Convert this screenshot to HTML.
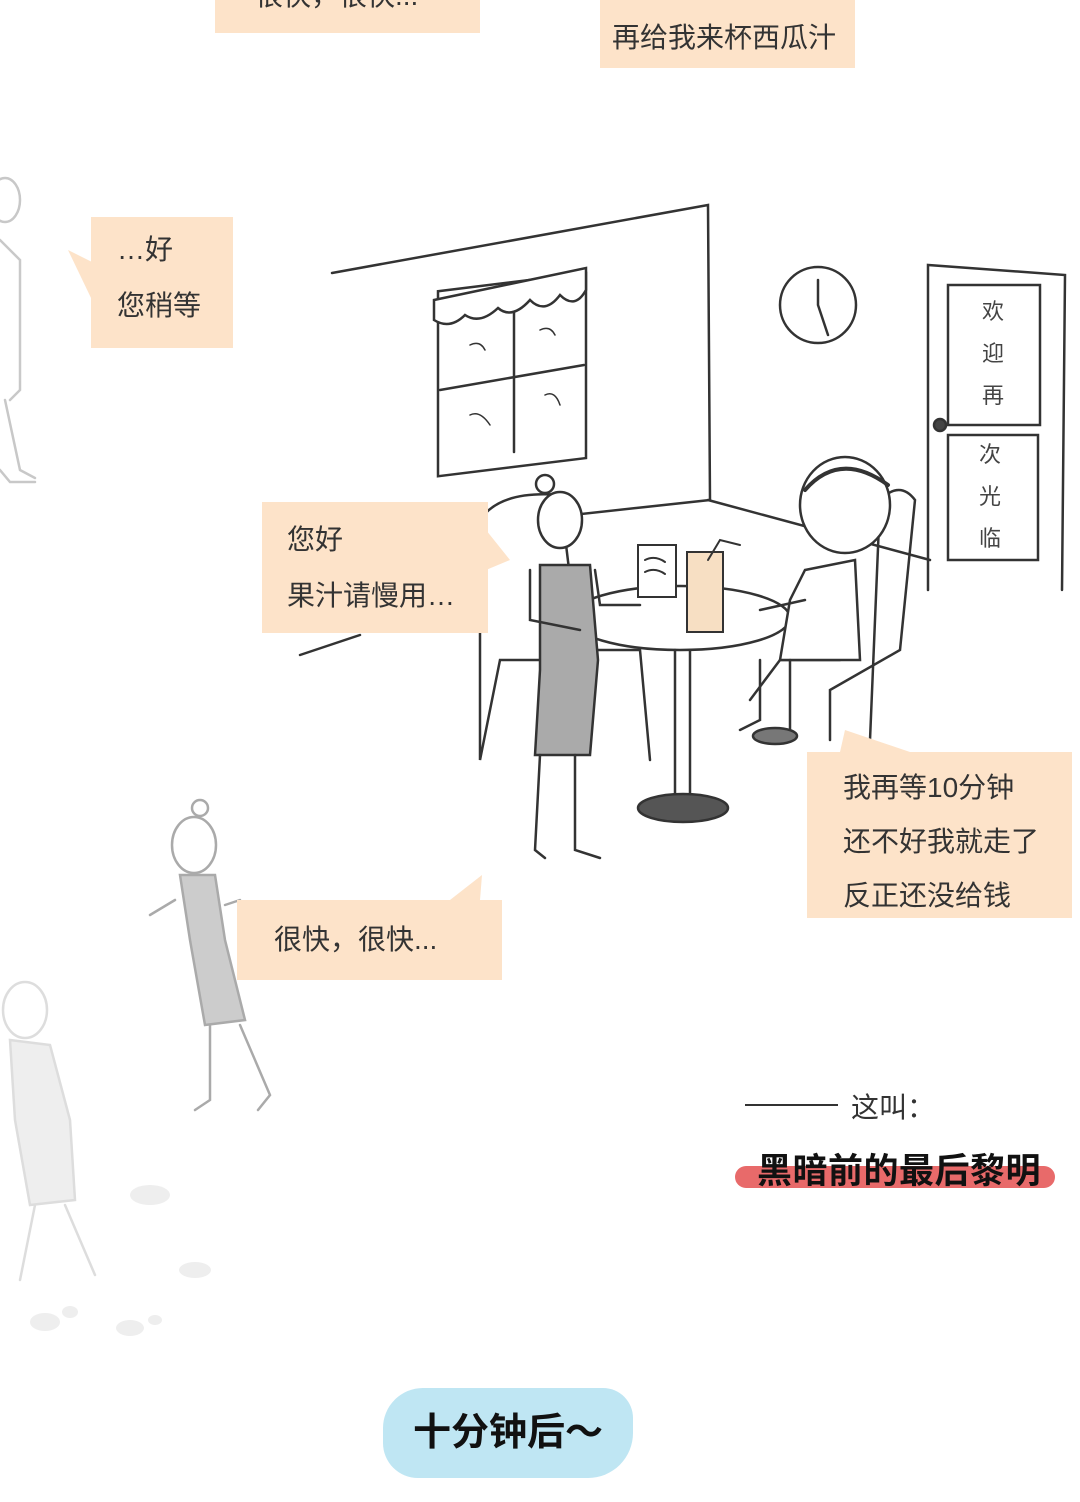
<!DOCTYPE html>
<html><head><meta charset="utf-8">
<style>
html,body{margin:0;padding:0;background:#fff}
#page{position:relative;width:1080px;height:1502px;overflow:hidden;background:#fff;font-family:"Liberation Sans","Noto Sans CJK SC",sans-serif}
.bub{position:absolute;background:#fde3c9;color:#333;font-size:28px;line-height:56px;box-sizing:border-box}
svg{position:absolute;left:0;top:0}
.door{position:absolute;font-size:22px;color:#444;width:30px;text-align:center;line-height:42px}
</style></head>
<body>
<div id="page">
<svg width="1080" height="1502" fill="none" stroke="#333" stroke-width="2.5" stroke-linecap="round">
 <g stroke="#bbb" opacity="0.8">
  <ellipse cx="5" cy="200" rx="15" ry="22"/>
  <path d="M0 240 L20 260 L20 390 L10 400"/>
  <path d="M5 400 L20 470 L35 478"/>
  <path d="M0 470 L10 482 L35 482"/>
 </g>
 <g stroke="#aaa">
  <ellipse cx="194" cy="845" rx="22" ry="28"/>
  <circle cx="200" cy="808" r="8"/>
  <path d="M180 875 L215 875 L225 940 L245 1020 L205 1025 L190 940 Z" fill="#ccc"/>
  <path d="M175 900 L150 915 M225 905 L240 900"/>
  <path d="M210 1025 L210 1100 L195 1110 M240 1025 L270 1095 L258 1110"/>
 </g>
 <g stroke="#ddd">
  <ellipse cx="25" cy="1010" rx="22" ry="28"/>
  <path d="M10 1040 L50 1045 L70 1120 L75 1200 L30 1205 L15 1120 Z" fill="#eee"/>
  <path d="M35 1205 L20 1280 M65 1205 L95 1275"/>
 </g>
 <g fill="#eee" stroke="none">
  <ellipse cx="45" cy="1322" rx="15" ry="9"/><ellipse cx="70" cy="1312" rx="8" ry="6"/>
  <ellipse cx="130" cy="1328" rx="14" ry="8"/><ellipse cx="155" cy="1320" rx="7" ry="5"/>
  <ellipse cx="150" cy="1195" rx="20" ry="10"/><ellipse cx="195" cy="1270" rx="16" ry="8"/>
 </g>
 <g>
  <path d="M332 273 L708 205 L710 500 L480 525"/>
  <path d="M708 500 L930 560"/>
  <path d="M300 655 L360 635"/>
 </g>
 <g>
  <rect x="438" y="290" width="148" height="185" transform="skewY(-7) translate(0,55)"/>
  <path d="M514 290 L514 452 M440 390 L584 365"/>
  <path d="M434 300 L586 268 L586 290 Q575 310 560 295 Q545 315 530 300 Q512 320 498 308 Q480 325 465 315 Q450 330 434 320 Z" fill="#fff"/>
  <path d="M470 345 Q480 340 485 350 M540 330 Q550 325 555 335 M470 415 Q480 410 490 425 M545 395 Q555 390 560 405" stroke-width="1.5"/>
 </g>
 <g>
  <circle cx="818" cy="305" r="38"/>
  <path d="M818 305 L818 280 M818 305 L828 335"/>
 </g>
 <g>
  <path d="M928 590 L928 265 L1065 275 L1062 590"/>
  <rect x="948" y="285" width="92" height="140"/>
  <rect x="948" y="435" width="90" height="125"/>
  <circle cx="940" cy="425" r="6" fill="#444"/>
 </g>
 <g>
  <path d="M480 760 L480 520 Q500 490 560 495 L580 660 L500 660 Z" fill="#fff"/>
  <path d="M585 650 L640 650 L650 760"/>
  <path d="M870 740 L880 500 Q900 480 915 500 L900 650 L830 690 L830 740"/>
  <path d="M750 700 L780 660 L840 660"/>
 </g>
 <g>
  <ellipse cx="680" cy="618" rx="110" ry="32" fill="#fff"/>
  <path d="M675 650 L675 800 M690 650 L690 800"/>
  <ellipse cx="683" cy="808" rx="45" ry="14" fill="#555"/>
 </g>
 <g stroke-width="2">
  <rect x="638" y="545" width="38" height="52" fill="#fff"/>
  <path d="M645 560 Q655 555 665 562 M645 572 Q655 567 665 574"/>
  <rect x="687" y="552" width="36" height="80" fill="#f7dfc3"/>
  <path d="M708 560 L720 540 L740 545"/>
 </g>
 <g>
  <circle cx="545" cy="484" r="9"/>
  <ellipse cx="560" cy="520" rx="22" ry="28" fill="#fff"/>
  <path d="M540 565 L590 565 L598 660 L590 755 L535 755 L540 670 Z" fill="#aaa"/>
  <path d="M530 570 L530 620 L580 630 M595 570 L600 605 L640 605"/>
  <path d="M540 755 L535 850 L545 858 M575 755 L575 850 L600 858"/>
 </g>
 <g>
  <ellipse cx="845" cy="505" rx="45" ry="48" fill="#fff"/>
  <path d="M805 490 Q840 450 888 485" stroke-width="4"/>
  <path d="M805 570 L855 560 L860 660 L780 660 L790 600 Z" fill="#fff"/>
  <path d="M805 600 L760 610 M760 660 L760 720 L740 730 M790 660 L790 730 L760 740"/>
  <ellipse cx="775" cy="736" rx="22" ry="8" fill="#777"/>
 </g>
</svg>

<div class="door" style="left:978px;top:291px">欢<br>迎<br>再</div>
<div class="door" style="left:975px;top:434px">次<br>光<br>临</div>

<div class="bub" style="left:215px;top:-30px;width:265px;height:63px;padding-left:40px;line-height:52px">很快，很快...</div>
<div class="bub" style="left:600px;top:0;width:255px;height:68px;padding:8px 0 0 12px;line-height:60px">再给我来杯西瓜汁</div>

<svg width="1080" height="1502" stroke="none" fill="#fde3c9">
 <path d="M92 262 L68 250 L92 300 Z"/>
 <path d="M486 530 L510 560 L486 570 Z"/>
 <path d="M840 752 L845 730 L910 752 Z"/>
 <path d="M450 900 L482 875 L480 900 Z"/>
</svg>

<div class="bub" style="left:91px;top:217px;width:142px;height:131px;padding:5px 0 0 26px">…好<br>您稍等</div>
<div class="bub" style="left:262px;top:502px;width:226px;height:131px;padding:10px 0 0 25px">您好<br>果汁请慢用…</div>
<div class="bub" style="left:807px;top:752px;width:265px;height:166px;padding:9px 0 0 36px;line-height:54px">我再等10分钟<br>还不好我就走了<br>反正还没给钱</div>
<div class="bub" style="left:237px;top:900px;width:265px;height:80px;padding:12px 0 0 37px">很快，很快...</div>

<div style="position:absolute;left:745px;top:1104px;width:93px;border-top:2px solid #333"></div>
<div style="position:absolute;left:851px;top:1086px;font-size:28px;color:#333">这叫：</div>
<div style="position:absolute;left:735px;top:1166px;width:320px;height:22px;background:#e86a6a;border-radius:11px"></div>
<div style="position:absolute;left:757px;top:1143px;font-size:35px;letter-spacing:0.5px;font-weight:bold;color:#111">黑暗前的最后黎明</div>

<div style="position:absolute;left:383px;top:1388px;width:250px;height:90px;background:#bfe6f3;border-radius:40px 30px 45px 35px;font-size:38px;font-weight:bold;color:#111;text-align:center;line-height:90px">十分钟后～</div>
</div>
</body></html>
